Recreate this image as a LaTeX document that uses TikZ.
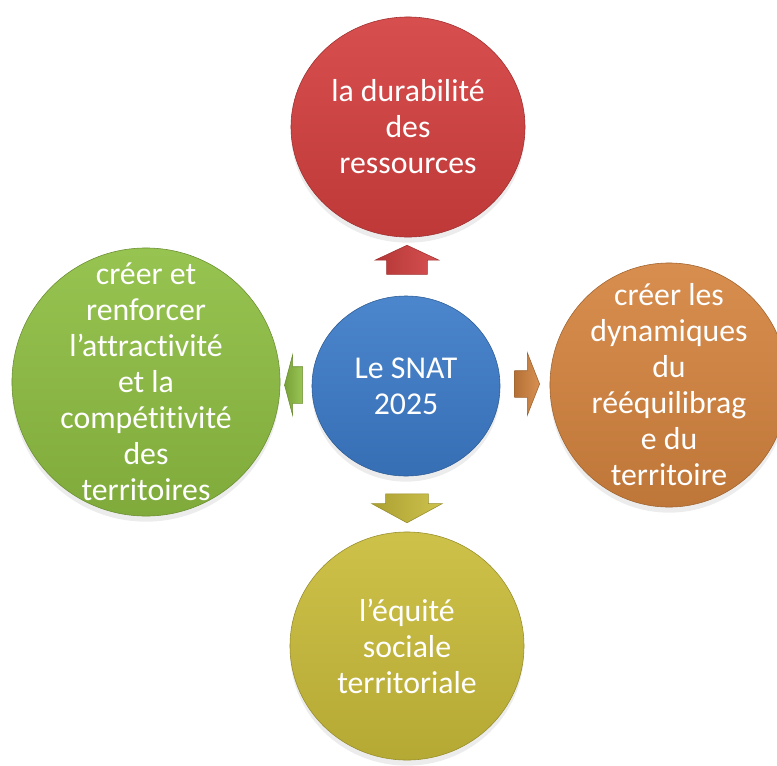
\documentclass[tikz,border=0pt]{standalone}
\usepackage{fontspec}
\setmainfont{Carlito}[Ligatures=NoCommon]
\usetikzlibrary{shapes.geometric, shapes.arrows, shadows}

\definecolor{snatred}{HTML}{D43F3F}
\definecolor{snatblue}{HTML}{3C7BC8}
\definecolor{snatorange}{HTML}{D4843F}
\definecolor{snatgreen}{HTML}{8EBE42}
\definecolor{snatyellow}{HTML}{C9BC3A}

\begin{document}
\begin{tikzpicture}[x=0.025cm, y=-0.025cm,
	every label/.style={text=white, align=center, font=\fontsize{22.6}{25.6}\selectfont},
	bubble/.style={ellipse, inner sep=0pt, top color=#1!92!white, bottom color=#1!90!black, draw=#1!75!black, thin,
		drop shadow={shadow xshift=0pt, shadow yshift=-4pt, opacity=0.15}},
	blockarrow/.style={single arrow, inner xsep=0pt, draw=#1!75!black, left color=#1!85!black, right color=#1!90!white}]
	\clip (0,0) rectangle (777,765);
	\useasboundingbox (0,0) rectangle (777,765);
	
	\node[bubble=snatblue, minimum width=4.7cm, minimum height=4.5cm, label=center:{Le SNAT\\2025}] (snat) at (406,386) {};
	
	\node[bubble=snatred, minimum width=5.85cm, minimum height=5.5cm, label=center:{la durabilité\\des\\ressources}] (durab) at (408,127) {};
	\node[bubble=snatgreen, minimum width=6.7cm, minimum height=6.7cm, label=center:{créer et\\renforcer\\l’attractivité\\et la\\compétitivité\\des\\territoires}] (attract) at (146,382) {};
	\node[bubble=snatorange, minimum width=5.95cm, minimum height=6.1cm, label=center:{créer les\\dynamiques\\du\\rééquilibrag\\e du\\territoire}] (dynam) at (669,385) {};
	\node[bubble=snatyellow, minimum width=5.85cm, minimum height=5.7cm, label=center:{l’équité\\sociale\\territoriale}] (equite) at (407,646) {};
	
	\node[blockarrow=snatred, rotate=90, inner ysep=0.5cm, minimum width=1.575cm, minimum height=0.725cm,
		single arrow head extend=0.2875cm, single arrow tip angle=130] (up) at (407,264.5) {};
	\node[blockarrow=snatgreen, rotate=180, inner ysep=0.45cm, minimum width=1.5cm, minimum height=0.45cm,
		single arrow head extend=0.3cm, single arrow tip angle=150] (left) at (296,385) {};
	\node[blockarrow=snatorange, inner ysep=0.325cm, minimum width=1.55cm, minimum height=0.625cm,
		single arrow head extend=0.45cm, single arrow tip angle=137] (right) at (524.5,384) {};
	\node[blockarrow=snatyellow, rotate=-90, inner ysep=0.525cm, minimum width=1.75cm, minimum height=0.725cm,
		single arrow head extend=0.35cm, single arrow tip angle=123] (down) at (407,502.5) {};
\end{tikzpicture}
\end{document}
